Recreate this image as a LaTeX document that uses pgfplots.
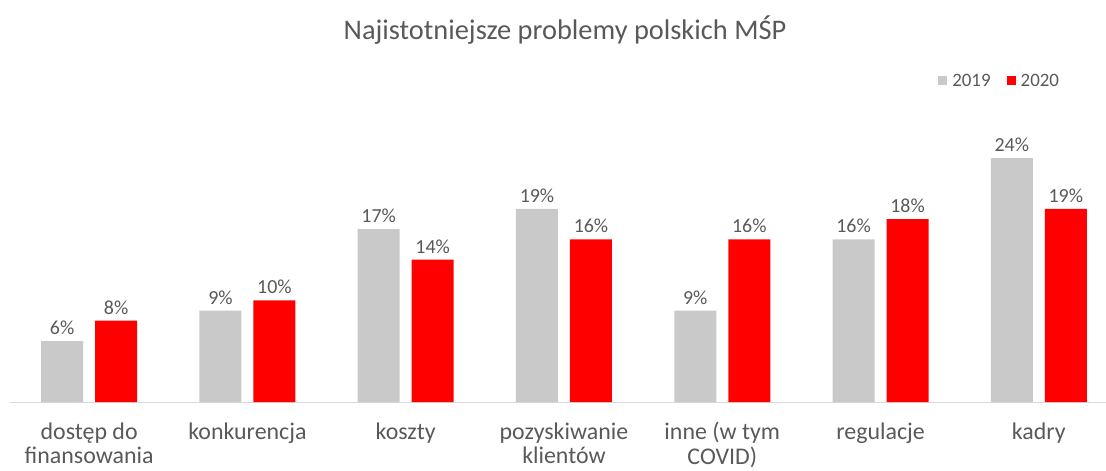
\documentclass[border=0pt]{standalone}
\usepackage{pgfplots}
\pgfplotsset{compat=1.18}
\usepackage{fontspec}
\setmainfont{Carlito}
\definecolor{txt}{HTML}{595959}
\definecolor{g19}{HTML}{C9C9C9}
\definecolor{r20}{HTML}{FF0000}
\definecolor{axl}{HTML}{D9D9D9}
\begin{document}
\begin{tikzpicture}
\begin{axis}[
  anchor=south west, at={(10bp,-402bp)},
  scale only axis, width=1108bp, height=305bp,
  xmin=-0.5, xmax=6.5, ymin=0, ymax=30,
  axis x line=bottom, axis y line=none,
  x axis line style={-, draw=axl, line width=0.8bp},
  ybar=12bp, bar width=42bp,
  xtick={0,1,2,3,4,5,6},
  xticklabels={{dostęp do\\finansowania},konkurencja,koszty,{pozyskiwanie\\klientów},{inne (w tym\\COVID)},regulacje,kadry},
  xtick style={draw=none},
  xticklabel style={font=\fontsize{24}{25}\selectfont, text=txt, align=center, inner sep=0pt, yshift=-16bp},
  /pgf/number format/assume math mode=true,
  nodes near coords={\pgfmathprintnumber{\pgfplotspointmeta}\%},
  every node near coord/.append style={font=\fontsize{20}{22}\selectfont, text=txt, inner sep=0pt, yshift=6bp},
  legend style={at={(0.9486,1.0525)}, anchor=east, draw=none, fill=none, inner sep=0pt, outer sep=0pt,
    font=\fontsize{19}{21}\selectfont, text=txt, legend columns=2,
    /tikz/every even column/.append style={column sep=14bp}},
  legend image code/.code={\path (0bp,0bp) -- (12bp,0bp); \fill[#1] (0bp,-4.5bp) rectangle (9bp,4.5bp);},
]
\addplot[fill=g19, draw=none] coordinates {(0,6) (1,9) (2,17) (3,19) (4,9) (5,16) (6,24)};
\addplot[fill=r20, draw=none] coordinates {(0,8) (1,10) (2,14) (3,16) (4,16) (5,18) (6,19)};
\legend{2019,2020}
\end{axis}
\node[font=\fontsize{28.5}{32}\selectfont, text=txt] at (565bp,-30bp) {Najistotniejsze problemy polskich MŚP};
\pgfresetboundingbox
\path[use as bounding box] (0,0) rectangle (1106bp,-471bp);
\end{tikzpicture}
\end{document}
